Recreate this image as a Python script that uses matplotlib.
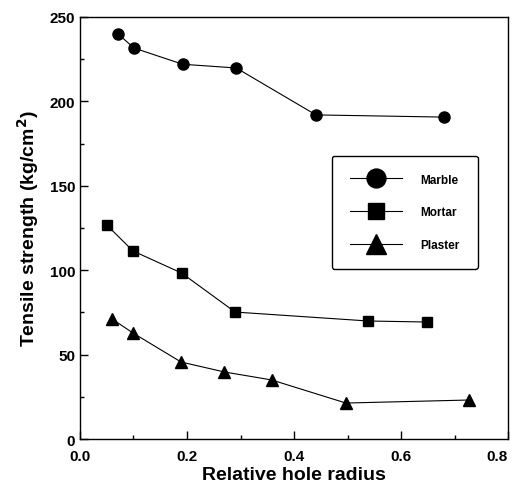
import numpy as np
import matplotlib.pyplot as plt
from matplotlib.ticker import MultipleLocator

plt.rcParams['font.family'] = ['Liberation Sans', 'DejaVu Sans']

# data
marble_x = [0.071, 0.101, 0.192, 0.292, 0.441, 0.680]
marble_y = [240, 231.6, 222, 219.8, 192, 190.7]
mortar_x = [0.050, 0.099, 0.190, 0.290, 0.539, 0.649]
mortar_y = [126.8, 111.4, 98.3, 75.2, 69.9, 69.3]
plaster_x = [0.060, 0.099, 0.189, 0.270, 0.358, 0.497, 0.727]
plaster_y = [71.1, 62.8, 45.6, 39.7, 35.0, 21.3, 23.1]
xticks = [0.0, 0.2, 0.4, 0.6, 0.8]
xtick_labels = ['0.0', '0.2', '0.4', '0.6', '0.8']

fig = plt.figure(figsize=(5.17, 4.89), dpi=100)
ax = fig.add_axes([0.1547, 0.1002, 0.828, 0.863])

ax.plot(marble_x, marble_y, 'k-', marker='o', ms=8, lw=0.8, label='Marble')
ax.plot(mortar_x, mortar_y, 'k-', marker='s', ms=7, lw=0.8, label='Mortar')
ax.plot(plaster_x, plaster_y, 'k-', marker='^', ms=8.5, lw=0.8, label='Plaster')

ax.set_xlim(0, 0.8)
ax.set_ylim(0, 250)
ax.set_xticks(xticks, xtick_labels, fontweight='bold')
ax.xaxis.set_minor_locator(MultipleLocator(0.1))
ax.yaxis.set_major_locator(MultipleLocator(50))
ax.yaxis.set_minor_locator(MultipleLocator(25))
ax.tick_params(which='both', direction='in', labelsize=11, width=1)
ax.tick_params(which='major', length=6)
ax.tick_params(which='minor', length=3)
ax.tick_params(axis='x', pad=7)
for lbl in ax.get_yticklabels():
    lbl.set_fontweight('bold')
ax.get_xticklabels()[-1].set_horizontalalignment('right')
for s in ax.spines.values():
    s.set_linewidth(1)

ax.set_xlabel('Relative hole radius', fontsize=14, fontweight='bold', labelpad=2)
ax.set_ylabel('Tensile strength (kg/cm$^{\\mathbf{2}}$)', fontsize=14, fontweight='bold', labelpad=6)

leg = ax.legend(loc='upper left', bbox_to_anchor=(0.589, 0.671), markerscale=1.7,
                handlelength=4.4, handletextpad=1.6, labelspacing=1.75,
                borderpad=1.5, borderaxespad=0, fancybox=True, edgecolor='black',
                prop={'weight': 'bold', 'size': 8.5})
leg.get_frame().set_linewidth(1)
leg.get_frame().set_alpha(1)

plt.savefig('out.png', dpi=100)
